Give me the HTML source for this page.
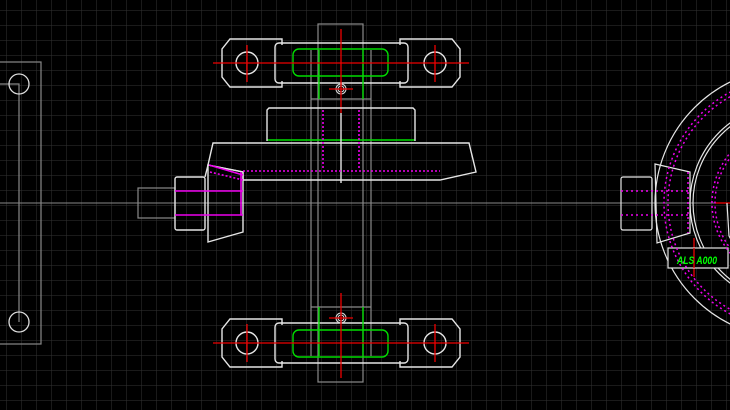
<!DOCTYPE html>
<html><head><meta charset="utf-8"><style>
html,body{margin:0;padding:0;background:#000;overflow:hidden}
svg{display:block}
</style></head><body>
<svg width="730" height="410" viewBox="0 0 730 410" xmlns="http://www.w3.org/2000/svg">
<defs>
<pattern id="g" x="6" y="10" width="15" height="15" patternUnits="userSpaceOnUse">
<path d="M0 0H15M0 0V15" stroke="#333" stroke-width="1" fill="none"/>
</pattern>
</defs>
<rect width="730" height="410" fill="#000"/>
<rect width="730" height="410" fill="url(#g)"/>
<line x1="0" y1="203" x2="730" y2="203" stroke="#888" stroke-width="1"/>
<g fill="none" stroke="#888" stroke-width="1.2">
<rect x="-2" y="62" width="43" height="282"/>
<path d="M0 84H19V322"/>
</g>
<g fill="none" stroke="#ddd" stroke-width="1.3">
<circle cx="19" cy="84" r="10"/><circle cx="19" cy="322" r="10"/>
</g>
<g fill="none" stroke="#8a8a8a" stroke-width="1.2">
<rect x="318" y="24" width="45" height="358"/>
<line x1="311" y1="50" x2="311" y2="356"/><line x1="371" y1="50" x2="371" y2="356"/>
<line x1="311" y1="99" x2="371" y2="99"/><line x1="311" y1="307" x2="371" y2="307"/>
<rect x="138" y="188" width="37" height="30"/>
</g>
<g fill="none" stroke="#e6e6e6" stroke-width="1.4">
<path d="M282 45V39H230L222 49V77L230 87H282V81"/>
<path d="M400 45V39H452L460 49V77L452 87H400V81"/>
<rect x="275" y="43" width="133" height="40" rx="4"/>
<circle cx="247" cy="63" r="11"/><circle cx="435" cy="63" r="11"/>
<path d="M282 361V367H230L222 357V329L230 319H282V325"/>
<path d="M400 361V367H452L460 357V329L452 319H400V325"/>
<rect x="275" y="323" width="133" height="40" rx="4"/>
<circle cx="247" cy="343" r="11"/><circle cx="435" cy="343" r="11"/>
</g>
<g fill="none" stroke="#00dd00" stroke-width="1.4">
<rect x="293" y="49" width="95" height="27" rx="6"/>
<rect x="293" y="330" width="95" height="27" rx="6"/>
<line x1="319" y1="50" x2="319" y2="99"/><line x1="363" y1="50" x2="363" y2="99"/>
<line x1="319" y1="307" x2="319" y2="356"/><line x1="363" y1="307" x2="363" y2="356"/>
<line x1="267" y1="140" x2="415" y2="140"/>
</g>
<g fill="none" stroke="#ddd" stroke-width="1">
<circle cx="341" cy="89" r="5"/><circle cx="341" cy="89" r="3"/>
<circle cx="341" cy="318" r="5"/><circle cx="341" cy="318" r="3"/>
</g>
<g stroke="#ee0000" stroke-width="1.3">
<line x1="213" y1="63" x2="469" y2="63"/><line x1="341" y1="29" x2="341" y2="113"/>
<line x1="247" y1="45" x2="247" y2="82"/><line x1="435" y1="45" x2="435" y2="82"/>
<line x1="329" y1="89" x2="353" y2="89"/>
<line x1="213" y1="343" x2="469" y2="343"/><line x1="341" y1="293" x2="341" y2="378"/>
<line x1="247" y1="324" x2="247" y2="362"/><line x1="435" y1="324" x2="435" y2="362"/>
<line x1="329" y1="318" x2="353" y2="318"/>
<line x1="694" y1="238" x2="694" y2="277"/><line x1="715" y1="203" x2="730" y2="203"/>
</g>
<g fill="none" stroke="#e6e6e6" stroke-width="1.4">
<path d="M267 141V110L269 108H413L415 110V141"/>
<path d="M213 143H469L476 172L440 180H243V172L208 165Z"/>
<line x1="341" y1="113" x2="341" y2="183"/>
<path d="M208 165L243 172V232L208 242Z"/>
<rect x="175" y="177" width="30" height="53" rx="2"/>
<line x1="205" y1="177" x2="208" y2="165"/>
</g>
<g fill="none" stroke="#ee00ee" stroke-width="1.6">
<line x1="323" y1="110" x2="323" y2="168" stroke-dasharray="2 2"/>
<line x1="359" y1="110" x2="359" y2="168" stroke-dasharray="2 2"/>
<line x1="243" y1="171" x2="440" y2="171" stroke-dasharray="2 2"/>
<line x1="209" y1="165" x2="243" y2="175"/>
<line x1="210" y1="172" x2="243" y2="180" stroke-dasharray="2 2"/>
<line x1="175" y1="191" x2="243" y2="191"/>
<line x1="175" y1="215" x2="243" y2="215"/>
<line x1="241" y1="172" x2="241" y2="215"/>
</g>
<g fill="none" stroke="#e6e6e6" stroke-width="1.2">
<circle cx="790" cy="203" r="135"/>
<circle cx="790" cy="203" r="100"/>
<circle cx="790" cy="203" r="97"/>
<path d="M655 164L690 172V233L657 243Z"/>
<rect x="621" y="177" width="31" height="53" rx="2"/>
<path d="M737 250L729 236L727 203"/>
<rect x="668" y="248" width="60" height="20" fill="#000"/>
</g>
<g fill="none" stroke="#ee00ee" stroke-width="1.5" stroke-dasharray="2 3">
<circle cx="790" cy="203" r="126"/>
<circle cx="790" cy="203" r="122"/>
<circle cx="790" cy="203" r="78"/>
<circle cx="790" cy="203" r="75"/>
<line x1="621" y1="191" x2="690" y2="191"/>
<line x1="621" y1="215" x2="690" y2="215"/>
<line x1="688" y1="172" x2="688" y2="233"/>
</g>
<line x1="694" y1="248" x2="694" y2="268" stroke="#ee0000" stroke-width="1.3"/>
<text x="677" y="264" font-family="Liberation Sans, sans-serif" font-size="11" font-weight="bold" font-style="italic" fill="#00ff00" textLength="40" lengthAdjust="spacingAndGlyphs">ALS A000</text>
</svg>
</body></html>
